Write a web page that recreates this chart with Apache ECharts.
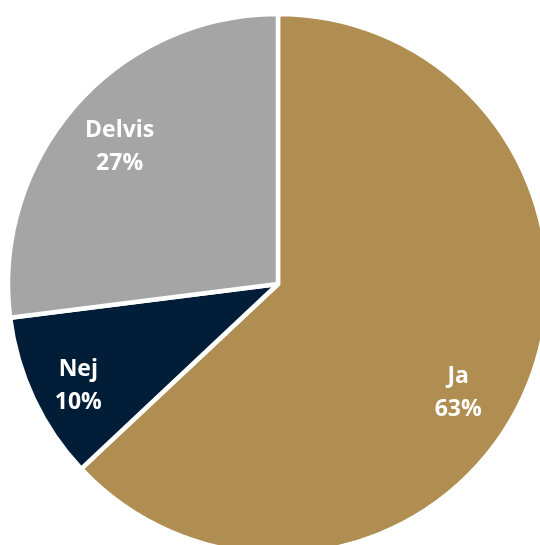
<!DOCTYPE html>
<html>
<head>
<meta charset="utf-8">
<script src="https://cdn.jsdelivr.net/npm/echarts@6/dist/echarts.min.js"></script>
<style>
  html, body { margin: 0; padding: 0; background: #ffffff; }
  #chart { width: 540px; height: 545px; }
</style>
</head>
<body>
<div id="chart"></div>
<script>
// Survey answers (share of respondents, %)
const categories = ['Ja', 'Nej', 'Delvis'];
const values = [63, 10, 27];
const colors = ['#B08D51', '#021D37', '#A5A5A5'];

const CX = 278, CY = 284, R = 270;

// Label placement inside each slice: fraction of radius and angular nudge (degrees)
const labelPlacement = {
  Ja:     { ratio: 0.78,  nudge: 7.8 },
  Nej:    { ratio: 0.83,  nudge: -1.8 },
  Delvis: { ratio: 0.775, nudge: -0.6 }
};

// Mid-angle of each slice (clockwise from 12 o'clock)
const total = values.reduce((a, b) => a + b, 0);
const midAngles = [];
let acc = 0;
values.forEach(v => {
  midAngles.push((acc + v / 2) / total * 360);
  acc += v;
});

const chart = echarts.init(document.getElementById('chart'), null, { renderer: 'canvas' });
chart.setOption({
  animation: false,
  backgroundColor: '#ffffff',
  series: [{
    type: 'pie',
    center: [CX, CY],
    radius: [0, R],
    startAngle: 90,
    clockwise: true,
    avoidLabelOverlap: false,
    data: categories.map((name, i) => ({
      name,
      value: values[i],
      itemStyle: { color: colors[i] }
    })),
    itemStyle: { borderColor: '#ffffff', borderWidth: 4.5 },
    label: {
      show: true,
      position: 'inside',
      formatter: p => p.name + '\n' + p.value + '%',
      color: '#ffffff',
      fontFamily: 'Open Sans',
      fontWeight: 'bold',
      fontSize: 23,
      lineHeight: 33,
      align: 'center',
      verticalAlign: 'middle'
    },
    labelLine: { show: false },
    labelLayout: function (params) {
      const name = categories[params.dataIndex];
      const place = labelPlacement[name];
      const a = (midAngles[params.dataIndex] + place.nudge) * Math.PI / 180;
      const d = R * place.ratio;
      return {
        x: CX + d * Math.sin(a),
        y: CY - d * Math.cos(a),
        align: 'center',
        verticalAlign: 'middle'
      };
    }
  }]
});
</script>
</body>
</html>
